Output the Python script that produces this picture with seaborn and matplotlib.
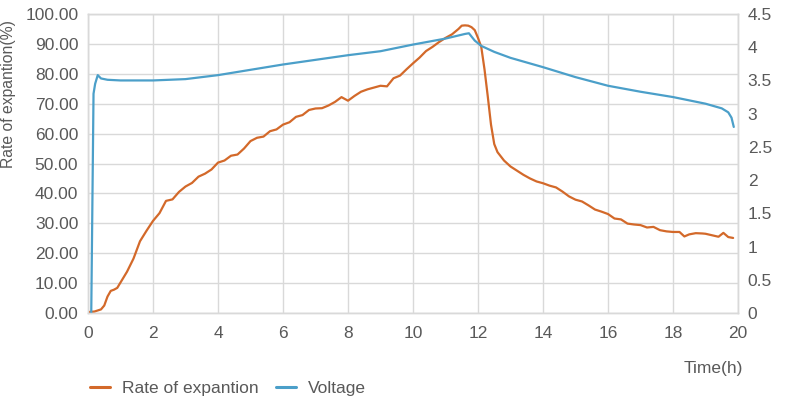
import matplotlib
matplotlib.use("Agg")
import matplotlib.pyplot as plt
import seaborn as sns
import pandas as pd
from matplotlib.lines import Line2D

# ---------------- data ----------------
rate_time = [0.0, 0.2, 0.4, 0.5, 0.6, 0.7, 0.8, 0.9, 1.0, 1.2, 1.4, 1.6, 1.8, 2.0,
             2.2, 2.4, 2.6, 2.8, 3.0, 3.2, 3.4, 3.6, 3.8, 4.0, 4.2, 4.4, 4.6, 4.8,
             5.0, 5.2, 5.4, 5.6, 5.8, 6.0, 6.2, 6.4, 6.6, 6.8, 7.0, 7.2, 7.4, 7.6,
             7.8, 8.0, 8.2, 8.4, 8.6, 8.8, 9.0, 9.2, 9.4, 9.6, 9.8, 10.0, 10.2,
             10.4, 10.6, 10.8, 11.0, 11.2, 11.4, 11.5, 11.6, 11.7, 11.8, 11.9,
             12.0, 12.1, 12.2, 12.3, 12.4, 12.5, 12.6, 12.8, 13.0, 13.2, 13.4,
             13.6, 13.8, 14.0, 14.2, 14.4, 14.6, 14.8, 15.0, 15.2, 15.4, 15.6,
             15.8, 16.0, 16.2, 16.4, 16.6, 16.8, 17.0, 17.2, 17.4, 17.6, 17.8,
             18.0, 18.2, 18.35, 18.5, 18.7, 18.9, 19.0, 19.2, 19.4, 19.55, 19.7,
             19.85]
rate_values = [0.3, 0.5, 1.2, 2.5, 5.5, 7.4, 7.8, 8.4, 10.2, 13.8, 18.2, 24.0, 27.5,
               30.8, 33.4, 37.5, 38.0, 40.5, 42.3, 43.5, 45.6, 46.6, 48.0, 50.3,
               51.0, 52.6, 53.0, 55.0, 57.5, 58.6, 59.0, 60.8, 61.4, 63.0, 63.8,
               65.6, 66.2, 67.9, 68.4, 68.5, 69.4, 70.6, 72.2, 71.0, 72.6, 74.0,
               74.8, 75.4, 76.0, 75.8, 78.5, 79.4, 81.5, 83.5, 85.4, 87.6, 89.0,
               90.6, 92.0, 93.2, 95.0, 96.1, 96.2, 96.1, 95.6, 94.6, 92.0, 89.0,
               81.5, 72.5, 63.0, 56.5, 53.8, 51.0, 49.0, 47.6, 46.2, 45.0, 44.0,
               43.4, 42.6, 42.0, 40.6, 39.0, 37.9, 37.3, 36.0, 34.6, 33.9, 33.1,
               31.6, 31.3, 29.9, 29.6, 29.4, 28.6, 28.8, 27.7, 27.3, 27.1, 27.1,
               25.6, 26.3, 26.7, 26.6, 26.5, 26.0, 25.5, 26.8, 25.4, 25.1]

volt_time = [0.10, 0.17, 0.22, 0.30, 0.40, 0.60, 1.0, 2.0, 3.0, 4.0, 5.0, 6.0, 7.0,
             8.0, 9.0, 10.0, 11.0, 11.6, 11.72, 11.9, 12.1, 12.5, 13.0, 14.0,
             15.0, 16.0, 17.0, 18.0, 19.0, 19.5, 19.7, 19.8, 19.87]
volt_values = [0.0, 3.30, 3.45, 3.58, 3.53, 3.51, 3.50, 3.50, 3.52, 3.58, 3.66,
               3.74, 3.81, 3.88, 3.94, 4.04, 4.13, 4.20, 4.21, 4.10, 4.02, 3.93,
               3.84, 3.70, 3.55, 3.42, 3.33, 3.25, 3.15, 3.08, 3.02, 2.94, 2.80]

x_ticks = [0, 2, 4, 6, 8, 10, 12, 14, 16, 18, 20]
left_ticks = [0, 10, 20, 30, 40, 50, 60, 70, 80, 90, 100]
right_ticks = [0, 0.5, 1, 1.5, 2, 2.5, 3, 3.5, 4, 4.5]
right_labels = ["0", "0.5", "1", "1.5", "2", "2.5", "3", "3.5", "4", "4.5"]

rate_label = "Rate of expantion"
volt_label = "Voltage"

# ---------------- style ----------------
sns.set_style("white")
plt.rcParams["font.family"] = ["Liberation Sans", "DejaVu Sans"]

ORANGE = "#D3692A"
BLUE = "#4B9FC9"
TXT = "#595959"
GRID = "#D9D9D9"
FS = 12.5

W, H = 785, 398
fig = plt.figure(figsize=(W / 100, H / 100), dpi=100)
ax = fig.add_axes([88 / W, 1 - 313 / H, (738 - 88) / W, (313 - 14) / H])
ax2 = ax.twinx()

df_rate = pd.DataFrame({"t": rate_time, "v": rate_values})
df_volt = pd.DataFrame({"t": volt_time, "v": volt_values})

sns.lineplot(data=df_rate, x="t", y="v", ax=ax, color=ORANGE, lw=1.6,
             legend=False, zorder=3)
sns.lineplot(data=df_volt, x="t", y="v", ax=ax2, color=BLUE, lw=1.6,
             legend=False, clip_on=False)

ax.set_xlim(0, 20)
ax.set_ylim(0, 100)
ax2.set_ylim(0, 4.5)
ax.set_xticks(x_ticks)
ax.set_yticks(left_ticks)
ax.set_yticklabels([f"{v:.2f}" for v in left_ticks])
ax2.set_yticks(right_ticks)
ax2.set_yticklabels(right_labels)

ax.grid(True, color=GRID, lw=1.0)
ax.set_axisbelow(True)
ax2.grid(False)
ax.set_xlabel("")
ax.set_ylabel("")
ax2.set_ylabel("")

for a in (ax, ax2):
    for s in a.spines.values():
        s.set_color(GRID)
        s.set_linewidth(1.0)
ax.tick_params(axis="both", length=0, labelsize=FS, colors=TXT)
ax.tick_params(axis="x", pad=9)
ax.tick_params(axis="y", pad=7)
ax2.tick_params(axis="y", length=0, labelsize=FS, colors=TXT, pad=7)

fig.text(9 / W, 1 - 94 / H, "Rate of expantion(%)", rotation=90, ha="center",
         va="center", fontsize=11.3, color=TXT)
fig.text(743 / W, 1 - 369 / H, "Time(h)", ha="right", va="center",
         fontsize=FS, color=TXT)

handles = [Line2D([0], [0], color=ORANGE, lw=2.2),
           Line2D([0], [0], color=BLUE, lw=2.2)]
leg = fig.legend(handles, [rate_label, volt_label], loc="center left",
                 bbox_to_anchor=(90 / W, 1 - 388 / H), ncol=2, frameon=False,
                 borderpad=0, borderaxespad=0, handlelength=1.15,
                 handletextpad=0.7, columnspacing=1.0, fontsize=FS)
for t in leg.get_texts():
    t.set_color(TXT)

fig.savefig("out.png", dpi=100)
